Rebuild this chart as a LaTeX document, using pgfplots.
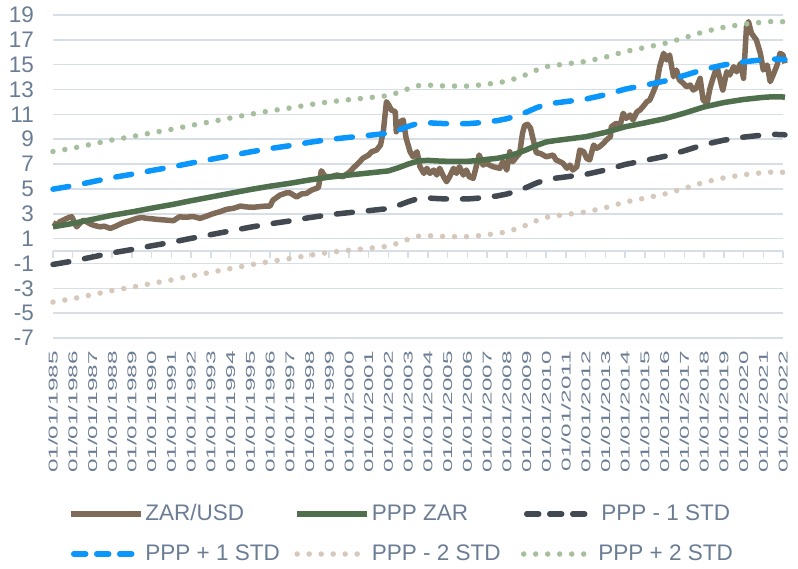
\documentclass[border=0pt]{standalone}
\usepackage{pgfplots}
\usepackage{pgfplotstable}
\pgfplotsset{compat=1.18}
\usepackage{fontspec}
\setmainfont{Liberation Sans}
\newfontfamily\xlabfont{Liberation Sans}[FakeStretch=1.9]
\definecolor{gridc}{RGB}{216,222,229}
\definecolor{labc}{RGB}{107,125,148}
\definecolor{zarc}{RGB}{127,107,87}
\definecolor{pppc}{RGB}{80,112,77}
\definecolor{m1c}{RGB}{66,73,80}
\definecolor{p1c}{RGB}{10,150,250}
\definecolor{m2c}{RGB}{214,201,187}
\definecolor{p2c}{RGB}{166,192,158}
\pgfplotsset{dashleg/.style={legend image code/.code={\draw[##1, dash pattern=on 12pt off 11pt] (3pt,0pt) -- (64pt,0pt); \path (72pt,0pt);}}}

\pgfplotstableread{
x ppp p1 m1 p2 m2
1985.0 1.95 4.98 -1.08 8.01 -4.11
1986.0 2.22 5.25 -0.81 8.28 -3.84
1987.0 2.55 5.58 -0.48 8.61 -3.51
1988.0 2.88 5.91 -0.15 8.94 -3.18
1989.0 3.15 6.18 0.12 9.21 -2.91
1990.0 3.45 6.48 0.42 9.51 -2.61
1991.0 3.73 6.76 0.70 9.79 -2.33
1992.0 4.05 7.08 1.02 10.11 -2.01
1993.0 4.35 7.38 1.32 10.41 -1.71
1994.0 4.65 7.68 1.62 10.71 -1.41
1995.0 4.95 7.98 1.92 11.01 -1.11
1996.0 5.22 8.25 2.19 11.28 -0.84
1997.0 5.45 8.48 2.42 11.51 -0.61
1998.0 5.72 8.75 2.69 11.78 -0.34
1999.0 5.95 8.98 2.92 12.01 -0.11
2000.0 6.12 9.15 3.09 12.18 0.06
2001.0 6.28 9.31 3.25 12.34 0.22
2002.0 6.45 9.48 3.42 12.51 0.39
2002.5 6.70 9.73 3.67 12.76 0.64
2003.0 7.00 10.03 3.97 13.06 0.94
2003.5 7.25 10.28 4.22 13.31 1.19
2004.0 7.30 10.33 4.27 13.36 1.24
2004.5 7.25 10.28 4.22 13.31 1.19
2005.0 7.22 10.25 4.19 13.28 1.16
2006.0 7.22 10.25 4.19 13.28 1.16
2006.5 7.28 10.31 4.25 13.34 1.22
2007.0 7.38 10.41 4.35 13.44 1.32
2007.5 7.46 10.49 4.43 13.52 1.40
2008.0 7.62 10.65 4.59 13.68 1.56
2008.5 7.85 10.88 4.82 13.91 1.79
2009.0 8.15 11.18 5.12 14.21 2.09
2009.5 8.50 11.53 5.47 14.56 2.44
2010.0 8.78 11.81 5.75 14.84 2.72
2010.5 8.90 11.93 5.87 14.96 2.84
2011.0 9.00 12.03 5.97 15.06 2.94
2012.0 9.20 12.23 6.17 15.26 3.14
2013.0 9.55 12.58 6.52 15.61 3.49
2014.0 10.00 13.03 6.97 16.06 3.94
2015.0 10.32 13.35 7.29 16.38 4.26
2016.0 10.65 13.68 7.62 16.71 4.59
2017.0 11.10 14.13 8.07 17.16 5.04
2018.0 11.60 14.63 8.57 17.66 5.54
2019.0 11.95 14.98 8.92 18.01 5.89
2020.0 12.20 15.23 9.17 18.26 6.14
2021.0 12.37 15.40 9.34 18.43 6.31
2021.5 12.42 15.45 9.39 18.48 6.36
2022.0 12.40 15.43 9.37 18.46 6.34
2022.1 12.38 15.41 9.35 18.44 6.32
}\bands

\begin{document}
\begin{tikzpicture}
\path[use as bounding box] (0pt,0pt) rectangle (798pt,569pt);
\begin{axis}[
  at={(53pt,231pt)}, anchor=south west,
  scale only axis, width=730pt, height=323pt,
  xmin=1985, xmax=2022, ymin=-7, ymax=19,
  clip=false,
  axis line style={draw=none},
  major tick length=0pt,
  ytick={-7,-5,...,19},
  yticklabels={-7,-5,-3,-1,1,3,5,7,9,11,13,15,17,19},
  ymajorgrids, grid style={draw=gridc, line width=1.5pt},
  xtick={1985,1986,...,2022},
  xticklabels={01/01/1985,01/01/1986,01/01/1987,01/01/1988,01/01/1989,01/01/1990,01/01/1991,01/01/1992,01/01/1993,01/01/1994,01/01/1995,01/01/1996,01/01/1997,01/01/1998,01/01/1999,01/01/2000,01/01/2001,01/01/2002,01/01/2003,01/01/2004,01/01/2005,01/01/2006,01/01/2007,01/01/2008,01/01/2009,01/01/2010,01/01/2011,01/01/2012,01/01/2013,01/01/2014,01/01/2015,01/01/2016,01/01/2017,01/01/2018,01/01/2019,01/01/2020,01/01/2021,01/01/2022},
  xticklabel style={rotate=90, anchor=east, inner sep=0pt, font=\xlabfont\fontsize{12.8}{14}\selectfont, text=labc},
  xticklabel shift=13pt,
  yticklabel style={anchor=east, inner sep=0pt, font=\fontsize{22.5}{26}\selectfont, text=labc},
  yticklabel shift=19pt,
  legend columns=3,
  legend style={at={(0.0205,-0.514)}, anchor=north west, draw=none, fill=none, inner sep=0pt, outer sep=0pt, font=\fontsize{22.5}{27}\selectfont, text=labc, row sep=20pt, nodes={inner sep=0pt, text height=16pt, text depth=4pt}},
  legend image code/.code={\draw[#1] (0pt,0pt) -- (70pt,0pt); \path (72pt,0pt);},
]
\draw[gridc, line width=1.5pt] (axis cs:1985,0) -- (axis cs:2022,0);
\pgfplotsinvokeforeach{1985,...,2022}{\draw[gridc, line width=1.5pt] (axis cs:#1,0) -- ++(0pt,-7pt);}

\addplot[zarc, line width=5.5pt, line join=round] coordinates {
(1985.0,2.28) (1985.2,2.1) (1985.35,2.36) (1985.6,2.55) (1985.8,2.7) (1985.95,2.76)
(1986.2,1.95) (1986.4,2.3) (1986.55,2.49) (1986.9,2.17) (1987.1,2.05) (1987.4,1.95)
(1987.6,2.0) (1987.9,1.82) (1988.2,2.01) (1988.55,2.28) (1988.9,2.44) (1989.25,2.63)
(1989.5,2.7) (1989.75,2.63) (1990.0,2.6) (1990.25,2.55) (1990.75,2.49) (1991.1,2.44)
(1991.4,2.75) (1991.75,2.72) (1992.1,2.78) (1992.45,2.63) (1992.8,2.82) (1993.1,3.0)
(1993.45,3.16) (1993.8,3.36) (1994.15,3.44) (1994.5,3.62) (1994.8,3.55) (1995.15,3.52)
(1995.5,3.58) (1995.8,3.62) (1996.0,3.62) (1996.15,4.1) (1996.5,4.5) (1996.85,4.69)
(1997.0,4.69) (1997.35,4.35) (1997.6,4.6) (1997.85,4.64) (1998.1,4.9) (1998.35,5.05)
(1998.45,5.1) (1998.6,6.46) (1998.8,5.98) (1999.05,5.98) (1999.4,6.12) (1999.7,5.98)
(2000.05,6.38) (2000.2,6.65) (2000.55,7.19) (2000.7,7.46) (2001.0,7.73) (2001.15,7.99)
(2001.4,8.13) (2001.6,8.53) (2001.75,9.74) (2001.9,12.02) (2002.0,11.8) (2002.15,11.35)
(2002.35,11.21) (2002.4,9.6) (2002.6,10.41) (2002.75,10.55) (2002.9,9.07) (2003.1,7.99)
(2003.25,7.59) (2003.45,7.99) (2003.6,6.79) (2003.8,6.25) (2003.95,6.66) (2004.1,6.25)
(2004.3,6.52) (2004.45,6.12) (2004.6,6.66) (2004.8,5.98) (2004.95,5.58) (2005.1,5.98)
(2005.3,6.66) (2005.45,6.25) (2005.6,6.79) (2005.8,6.12) (2005.95,6.52) (2006.1,5.98)
(2006.3,5.85) (2006.45,6.79) (2006.6,7.73) (2006.8,6.92) (2006.95,7.06) (2007.3,6.79)
(2007.65,6.66) (2007.8,7.19) (2008.0,6.52) (2008.15,7.99) (2008.3,7.19) (2008.5,7.59)
(2008.65,7.86) (2008.8,9.5) (2008.9,10.1) (2009.05,10.2) (2009.2,9.9) (2009.35,8.9)
(2009.5,7.9) (2009.7,7.86) (2010.0,7.59) (2010.35,7.73) (2010.5,7.33) (2010.7,7.19)
(2010.85,7.06) (2011.05,6.66) (2011.2,6.92) (2011.35,6.52) (2011.55,6.79) (2011.7,8.13)
(2011.9,7.99) (2012.05,7.46) (2012.2,7.33) (2012.4,8.53) (2012.55,8.27) (2012.7,8.4)
(2012.9,8.67) (2013.05,8.94) (2013.25,9.2) (2013.3,10.01) (2013.55,10.28) (2013.75,10.14)
(2013.9,11.09) (2014.05,10.68) (2014.25,10.95) (2014.4,10.55) (2014.6,11.21) (2014.75,11.35)
(2014.9,11.62) (2015.1,12.02) (2015.25,12.16) (2015.4,12.7) (2015.6,13.5) (2015.75,14.84)
(2015.95,15.92) (2016.1,15.38) (2016.25,15.78) (2016.45,14.03) (2016.6,14.57) (2016.75,13.77)
(2016.95,13.5) (2017.1,13.23) (2017.3,13.36) (2017.45,12.96) (2017.6,13.1) (2017.8,13.9)
(2017.95,12.16) (2018.15,11.89) (2018.3,13.1) (2018.45,13.9) (2018.65,14.84) (2018.8,13.9)
(2018.9,13.23) (2018.95,12.96) (2019.15,14.43) (2019.3,14.17) (2019.5,14.84) (2019.65,14.43)
(2019.85,15.11) (2020.0,13.9) (2020.15,18.06) (2020.25,18.46) (2020.4,17.53) (2020.65,16.99)
(2020.85,15.92) (2021.0,14.57) (2021.2,14.97) (2021.35,13.63) (2021.5,14.17) (2021.7,14.97)
(2021.85,15.92) (2022.0,15.78) (2022.1,15.11)
};
\addlegendentry{\makebox[149pt][l]{ZAR/USD}}
\addplot[pppc, line width=5.5pt, line join=round] table[x=x,y=ppp]{\bands};
\addlegendentry{\makebox[149pt][l]{PPP ZAR}}
\addplot[m1c, line width=5.5pt, line cap=round, dash pattern=on 16pt off 16pt, dashleg] table[x=x,y=m1]{\bands};
\addlegendentry{PPP - 1 STD}
\addplot[p1c, line width=5.5pt, line cap=round, dash pattern=on 16pt off 16pt, dashleg] table[x=x,y=p1]{\bands};
\addlegendentry{\makebox[149pt][l]{PPP + 1 STD}}
\addplot[m2c, line width=5.5pt, line cap=round, dash pattern=on 0pt off 12pt] table[x=x,y=m2]{\bands};
\addlegendentry{\makebox[149pt][l]{PPP - 2 STD}}
\addplot[p2c, line width=5.5pt, line cap=round, dash pattern=on 0pt off 12pt] table[x=x,y=p2]{\bands};
\addlegendentry{PPP + 2 STD}
\end{axis}
\end{tikzpicture}
\end{document}
